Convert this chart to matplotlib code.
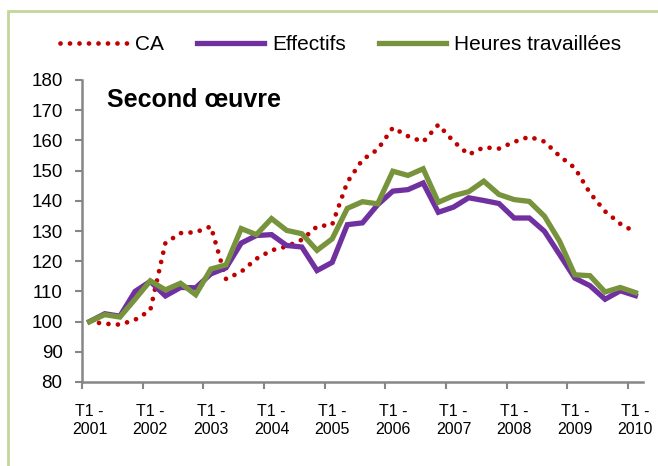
import matplotlib
matplotlib.use('Agg')
import matplotlib.pyplot as plt
from matplotlib.patches import Rectangle
import numpy as np

plt.rcParams['font.family'] = ['Liberation Sans', 'DejaVu Sans']

# indices base 100 au T1 2001, trimestriels
years = ['2001', '2002', '2003', '2004', '2005', '2006', '2007', '2008', '2009', '2010']
ca = [100, 99.3, 99.0, 100.6, 103.7, 126.0, 129.3, 129.6, 131.5, 114.1,
      116.5, 120.8, 123.6, 124.9, 127.1, 131.5, 132.1, 146.2, 153.6, 157.0,
      164.2, 161.4, 159.5, 165.2, 159.7, 155.3, 157.7, 157.3, 159.5, 161.2,
      159.6, 154.8, 150.9, 142.6, 136.5, 132.4, 129.6]
effectifs = [100, 102.6, 101.8, 110.0, 113.3, 108.5, 111.3, 111.2, 115.8, 117.8,
             126.0, 128.5, 128.8, 125.2, 124.7, 116.9, 119.6, 132.1, 132.7, 138.7,
             143.2, 143.7, 145.9, 136.2, 137.9, 141.0, 140.1, 139.1, 134.3, 134.3,
             129.9, 122.2, 114.4, 111.9, 107.4, 110.2, 108.6]
heures = [100, 102.3, 101.5, 107.4, 113.5, 110.5, 112.7, 108.9, 117.4, 118.8,
          130.8, 128.8, 134.1, 130.2, 129.1, 123.6, 127.4, 137.5, 139.7, 139.0,
          149.8, 148.4, 150.6, 139.5, 141.7, 143.0, 146.5, 142.1, 140.4, 139.8,
          134.9, 126.6, 115.5, 115.2, 109.8, 111.3, 109.6]

red = '#C00000'
purple = '#7030A0'
green = '#77933C'
grey = '#868686'

fig = plt.figure(figsize=(6.58, 4.66), dpi=100)
ax = fig.add_axes([82/658, 1 - 382/466, 561/658, 302/466])

x = np.arange(len(ca))
ax.plot(x, ca, color=red, lw=3.4, linestyle=(0, (0.01, 2.0)),
        dash_capstyle='round', label='CA')
ax.plot(x, effectifs, color=purple, lw=3.8, solid_joinstyle='miter',
        label='Effectifs')
ax.plot(x, heures, color=green, lw=3.8, solid_joinstyle='miter',
        label='Heures travaillées')

ax.set_xlim(-0.5, len(ca) - 0.5)
ax.set_ylim(80, 180)
ax.set_yticks(range(80, 181, 10))

# graduations entre les catégories, étiquettes sur les T1
ax.set_xticks(np.arange(-0.5, len(ca), 4))
ax.set_xticklabels([])
ax.set_xticks(np.arange(0, len(ca), 4), minor=True)
ax.set_xticklabels(['T1 -\n' + y for y in years], minor=True)
ax.tick_params(axis='x', which='major', direction='out', length=5,
               color=grey, width=1.5)
ax.tick_params(axis='x', which='minor', length=0, pad=16, labelsize=11.5)
ax.tick_params(axis='y', direction='out', length=5, color=grey, width=1.5,
               pad=9, labelsize=13.5)

for s in ['top', 'right']:
    ax.spines[s].set_visible(False)
for s in ['left', 'bottom']:
    ax.spines[s].set_color(grey)
    ax.spines[s].set_linewidth(1.8)

ax.text(0.045, 0.975, 'Second œuvre', transform=ax.transAxes,
        fontsize=18, fontweight='bold', va='top', ha='left')

fig.legend(loc='center', bbox_to_anchor=(0.518, 1 - 45/466), ncol=3,
           frameon=False, fontsize=15, handlelength=3.2, handletextpad=0.4,
           columnspacing=1.6)

fig.patches.append(Rectangle((7.5/658, -0.1), 1.2, 1.1 - 11/466,
                             transform=fig.transFigure, fill=False,
                             edgecolor='#C3D69B', lw=2.0))

fig.savefig('out.png', dpi=100)
